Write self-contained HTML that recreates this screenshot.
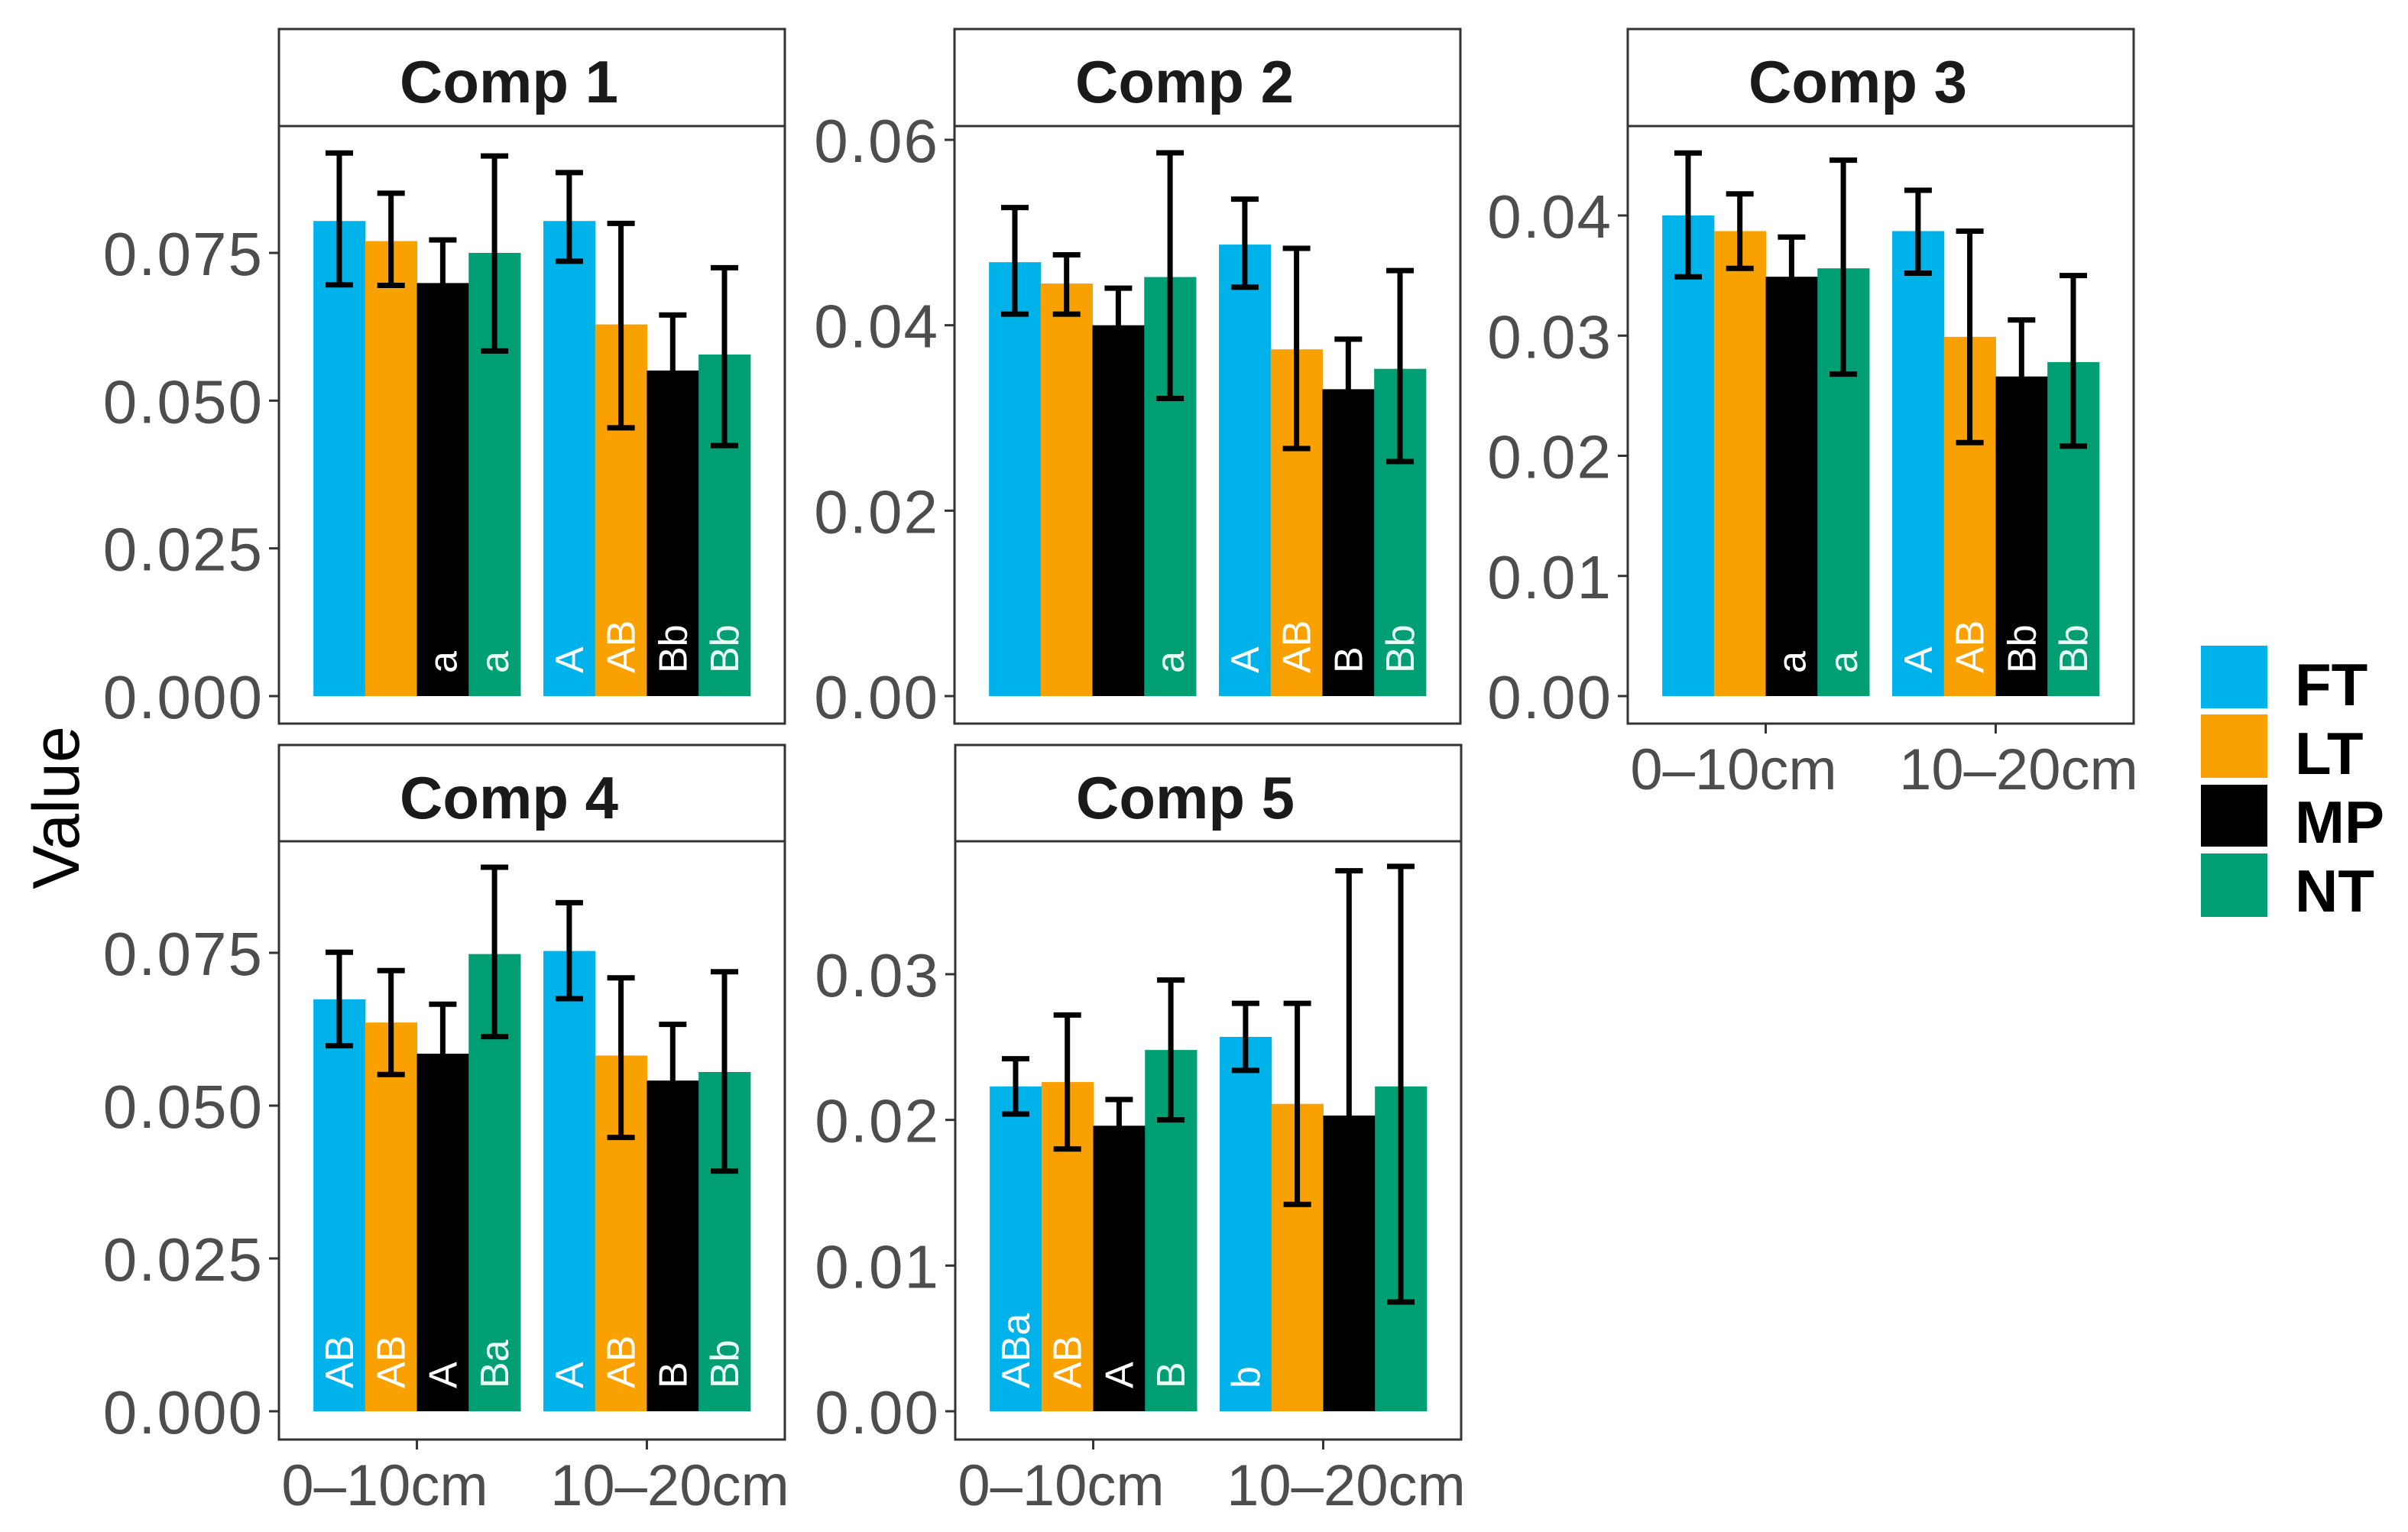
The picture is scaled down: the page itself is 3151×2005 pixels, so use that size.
<!DOCTYPE html>
<html><head><meta charset="utf-8"><style>
html,body{margin:0;padding:0;background:#fff;}
svg{display:block;font-family:"Liberation Sans",Arial,sans-serif;}
</style></head><body>
<svg id="chart" width="3151" height="2005" viewBox="0 0 3151 2005" xmlns="http://www.w3.org/2000/svg">
<text x="0" y="0" transform="translate(103,1057) rotate(-90)" text-anchor="middle" font-size="86" fill="#000">Value</text>
<g>
<rect x="2880" y="845" width="87" height="82" fill="#00B2EA"/>
<rect x="2880" y="935" width="87" height="83" fill="#F9A100"/>
<rect x="2880" y="1027" width="87" height="81" fill="#000"/>
<rect x="2880" y="1117" width="87" height="83" fill="#009E73"/>
<text x="3003" y="923" font-size="78" font-weight="bold">FT</text>
<text x="3003" y="1013" font-size="78" font-weight="bold">LT</text>
<text x="3003" y="1103" font-size="78" font-weight="bold">MP</text>
<text x="3003" y="1193" font-size="78" font-weight="bold">NT</text>
</g>
</svg>
<script>
// ---- data ----
const categories = ["0\u201310cm", "10\u201320cm"];
const treatments = ["FT", "LT", "MP", "NT"];
const panelTitles = ["Comp 1", "Comp 2", "Comp 3", "Comp 4", "Comp 5"];
// values per panel: [FT1,LT1,MP1,NT1, FT2,LT2,MP2,NT2]
const comp1Values = [0.0804, 0.0770, 0.0699, 0.0750, 0.0804, 0.0629, 0.0551, 0.0578];
const comp1Upper  = [0.0919, 0.0851, 0.0772, 0.0914, 0.0886, 0.0800, 0.0645, 0.0725];
const comp1Lower  = [0.0696, 0.0695, 0.0626, 0.0584, 0.0736, 0.0454, 0.0457, 0.0424];
const comp2Values = [0.0468, 0.0445, 0.0400, 0.0452, 0.0487, 0.0374, 0.0331, 0.0353];
const comp2Upper  = [0.0527, 0.0476, 0.0440, 0.0586, 0.0536, 0.0483, 0.0385, 0.0459];
const comp2Lower  = [0.0412, 0.0412, 0.0360, 0.0321, 0.0441, 0.0267, 0.0277, 0.0253];
const comp3Values = [0.0400, 0.0387, 0.0349, 0.0356, 0.0387, 0.0299, 0.0266, 0.0278];
const comp3Upper  = [0.0452, 0.0418, 0.0382, 0.0446, 0.0421, 0.0387, 0.0313, 0.0350];
const comp3Lower  = [0.0349, 0.0356, 0.0316, 0.0268, 0.0352, 0.0211, 0.0219, 0.0208];
const comp4Values = [0.0674, 0.0636, 0.0585, 0.0748, 0.0753, 0.0582, 0.0541, 0.0555];
const comp4Upper  = [0.0751, 0.0721, 0.0666, 0.0890, 0.0832, 0.0709, 0.0633, 0.0719];
const comp4Lower  = [0.0598, 0.0551, 0.0504, 0.0613, 0.0675, 0.0448, 0.0449, 0.0393];
const comp5Values = [0.0223, 0.0226, 0.0196, 0.0248, 0.0257, 0.0211, 0.0203, 0.0223];
const comp5Upper  = [0.0242, 0.0272, 0.0214, 0.0296, 0.0280, 0.0280, 0.0371, 0.0374];
const comp5Lower  = [0.0204, 0.0180, 0.0178, 0.0200, 0.0234, 0.0142, 0.0035, 0.0075];
const comp1Letters = ["", "", "a", "a", "A", "AB", "Bb", "Bb"];
const comp2Letters = ["", "", "", "a", "A", "AB", "B", "Bb"];
const comp3Letters = ["", "", "a", "a", "A", "AB", "Bb", "Bb"];
const comp4Letters = ["AB", "AB", "A", "Ba", "A", "AB", "B", "Bb"];
const comp5Letters = ["ABa", "AB", "A", "B", "b", "", "", ""];
const ticks3dp = [0, 0.025, 0.05, 0.075];
const ticks3dpLabels = ["0.000", "0.025", "0.050", "0.075"];
const ticks2 = [0, 0.02, 0.04, 0.06];
const ticks2Labels = ["0.00", "0.02", "0.04", "0.06"];
const ticks3 = [0, 0.01, 0.02, 0.03, 0.04];
const ticks3Labels = ["0.00", "0.01", "0.02", "0.03", "0.04"];
const ticks5 = [0, 0.01, 0.02, 0.03];
const ticks5Labels = ["0.00", "0.01", "0.02", "0.03"];

// ---- layout (not data) ----
const colors = ["#00B2EA", "#F9A100", "#000000", "#009E73"];
const NS = "http://www.w3.org/2000/svg";
const svg = document.getElementById("chart");
function mk(tag, attrs, parent) {
  const e = document.createElementNS(NS, tag);
  for (const k in attrs) e.setAttribute(k, attrs[k]);
  (parent || svg).appendChild(e);
  return e;
}
const panels = [
  {vals: comp1Values, up: comp1Upper, lo: comp1Lower, letters: comp1Letters, ticks: ticks3dp, labels: ticks3dpLabels, x: 365, top: 38, stripB: 165, bot: 947, zeroPx: 911, refVal: 0.075, refPx: 331, xlab: false},
  {vals: comp2Values, up: comp2Upper, lo: comp2Lower, letters: comp2Letters, ticks: ticks2, labels: ticks2Labels, x: 1249, top: 38, stripB: 165, bot: 947, zeroPx: 911, refVal: 0.06, refPx: 183, xlab: false},
  {vals: comp3Values, up: comp3Upper, lo: comp3Lower, letters: comp3Letters, ticks: ticks3, labels: ticks3Labels, x: 2130, top: 38, stripB: 165, bot: 947, zeroPx: 911, refVal: 0.04, refPx: 282, xlab: true},
  {vals: comp4Values, up: comp4Upper, lo: comp4Lower, letters: comp4Letters, ticks: ticks3dp, labels: ticks3dpLabels, x: 365, top: 975, stripB: 1101, bot: 1884, zeroPx: 1847, refVal: 0.075, refPx: 1247, xlab: true},
  {vals: comp5Values, up: comp5Upper, lo: comp5Lower, letters: comp5Letters, ticks: ticks5, labels: ticks5Labels, x: 1250, top: 975, stripB: 1101, bot: 1884, zeroPx: 1847, refVal: 0.03, refPx: 1275, xlab: true}
];
const W = 662;
const labelShift = [-42, 30];
panels.forEach((p, pi) => {
  const g = mk("g", {});
  
  
  const yScale = v => p.zeroPx - v * (p.zeroPx - p.refPx) / p.refVal;
  const unit = W / 2.2;
  const xCat = i => p.x + unit * (0.6 + i);
  const strip = mk("rect", {x: p.x, y: p.top, width: W, height: p.stripB - p.top, fill: "#fff", stroke: "#333", "stroke-width": 3}, g);
  
  
  const st = mk("text", {x: p.x + W / 2 - 30, y: p.top + 96, "text-anchor": "middle", "font-size": 78, "font-weight": "bold", fill: "#1a1a1a"}, g);
  st.textContent = panelTitles[pi];
  
  
  p.ticks.forEach((t, ti) => {
    const y = yScale(t);
    const tm = mk("line", {x1: p.x - 13, x2: p.x, y1: y, y2: y, stroke: "#333", "stroke-width": 3}, g);
    
    
    const tl = mk("text", {x: p.x - 20, y: y + 29, "text-anchor": "end", "font-size": 80, "letter-spacing": 2, fill: "#4d4d4d"}, g);
    tl.textContent = p.labels[ti];
    
    
  });
  const bw = unit * 0.9 / 4;
  p.vals.forEach((v, k) => {
    const ci = Math.floor(k / 4), ti = k % 4;
    const bx = xCat(ci) - unit * 0.45 + ti * bw;
    const yt = yScale(v), y0 = yScale(0);
    const r = mk("rect", {x: bx, y: yt, width: bw + 0.5, height: y0 - yt, fill: colors[ti]}, g);
    
    
    const cx = bx + bw / 2;
    if (p.letters[k]) {
      const lt = mk("text", {x: 0, y: 0, transform: "translate(" + (cx + 18) + "," + (y0 - 30) + ") rotate(-90)", "font-size": 52, fill: ti === 3 ? "#e8fff6" : "#ffffff"}, g);
      lt.textContent = p.letters[k];
      
      
    }
    const eb = mk("path", {d: "M" + (cx - 18) + "," + yScale(p.up[k]) + "H" + (cx + 18) + "M" + cx + "," + yScale(p.up[k]) + "V" + yScale(p.lo[k]) + "M" + (cx - 18) + "," + yScale(p.lo[k]) + "H" + (cx + 18), stroke: "#000", "stroke-width": 7, fill: "none"}, g);
    
    
  });
  const pb = mk("rect", {x: p.x, y: p.stripB, width: W, height: p.bot - p.stripB, fill: "none", stroke: "#333", "stroke-width": 3}, g);
  
  
  if (p.xlab) {
    categories.forEach((c, ci) => {
      const x = xCat(ci);
      const tm = mk("line", {x1: x, x2: x, y1: p.bot, y2: p.bot + 13, stroke: "#333", "stroke-width": 3}, g);
      
      
      const tl = mk("text", {x: x + labelShift[ci], y: p.bot + 86, "text-anchor": "middle", "font-size": 76, fill: "#4d4d4d"}, g);
      tl.textContent = c;
      
      
    });
  }
});
</script>
</body></html>
